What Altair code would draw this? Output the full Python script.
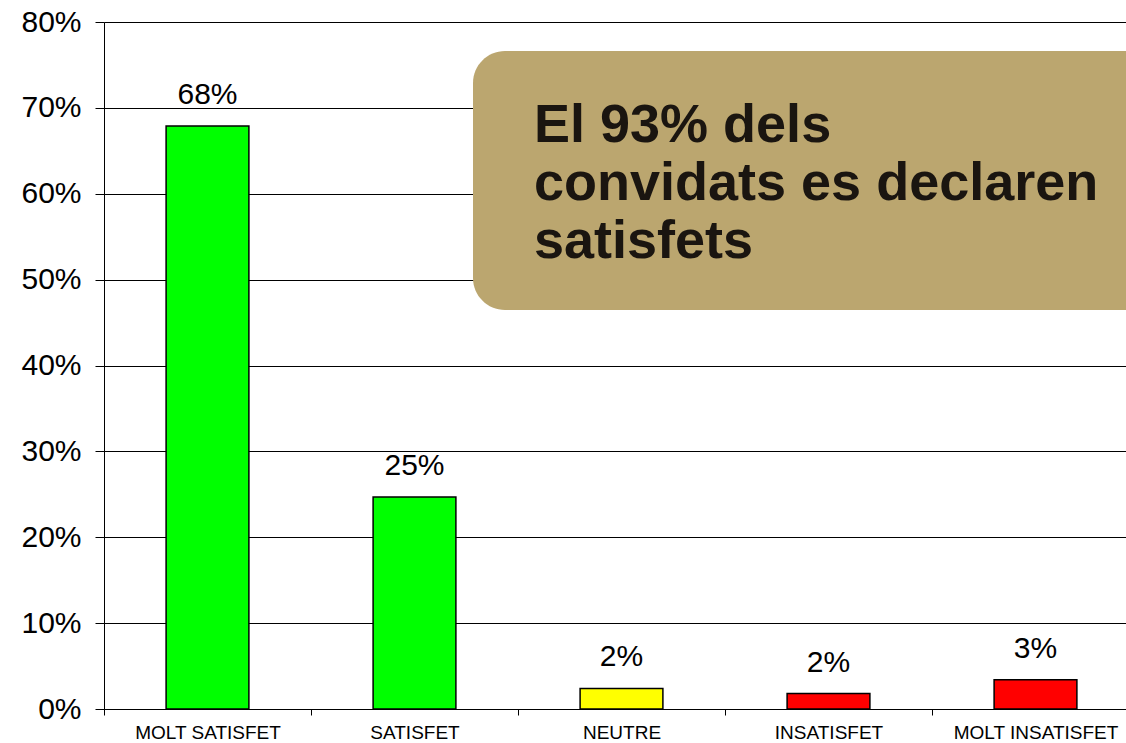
import altair as alt
import pandas as pd

categories = ["MOLT SATISFET", "SATISFET", "NEUTRE", "INSATISFET", "MOLT INSATISFET"]
values = [0.679, 0.247, 0.024, 0.018, 0.034]
labels = ["68%", "25%", "2%", "2%", "3%"]
colors = ["#00ff00", "#00ff00", "#ffff00", "#ff0000", "#ff0000"]
y_ticks = [0, 0.1, 0.2, 0.3, 0.4, 0.5, 0.6, 0.7, 0.8]
note_lines = ["El 93% dels", "convidats es declaren", "satisfets"]

df = pd.DataFrame({"cat": categories, "val": values, "lab": labels, "col": colors})

FONT = "Liberation Sans"

x_enc = alt.X(
    "cat:N",
    sort=categories,
    title=None,
    scale=alt.Scale(range=[0, 1035], paddingInner=0, paddingOuter=0),
    axis=alt.Axis(
        labelAngle=0, labelFontSize=19, labelColor="black", labelFont=FONT,
        tickBand="extent", tickSize=6, tickColor="black", domainColor="black",
        labelPadding=8, grid=False,
    ),
)
y_enc = alt.Y(
    "val:Q",
    title=None,
    scale=alt.Scale(domain=[0, 0.8], nice=False),
    axis=alt.Axis(
        values=y_ticks, format=".0%", labelFontSize=30, labelColor="black",
        labelFont=FONT, tickSize=9, tickColor="black", domainColor="black",
        gridColor="black", gridOpacity=1, labelPadding=14,
    ),
)

bars = alt.Chart(df).mark_bar(
    width=alt.RelativeBandSize(0.4), stroke="black", strokeWidth=1.5
).encode(x=x_enc, y=y_enc, color=alt.Color("col:N", scale=None))

texts = alt.Chart(df).mark_text(
    dy=-31, fontSize=30, font=FONT, color="black", baseline="middle"
).encode(x=alt.X("cat:N", sort=categories), y="val:Q", text="lab:N")

box = alt.Chart(pd.DataFrame({"a": [0]})).mark_rect(
    color="#bba66f", cornerRadius=32
).encode(x=alt.value(369), x2=alt.value(1100), y=alt.value(29), y2=alt.value(288))

note = alt.Chart(pd.DataFrame({"t": [note_lines]})).mark_text(
    align="left", baseline="alphabetic", fontSize=54, fontWeight="bold",
    font=FONT, color="#1a1510", lineHeight=58,
).encode(x=alt.value(430), y=alt.value(120), text="t")

chart = alt.layer(bars, texts, box, note).properties(
    width=1022, height=687,
    autosize=alt.AutoSizeParams(type="none"),
    padding={"left": 104, "top": 22, "right": 0, "bottom": 34},
).configure_view(stroke=None).configure(background="white")

chart.save("out.html", embed_options={"renderer": "svg", "actions": False})
